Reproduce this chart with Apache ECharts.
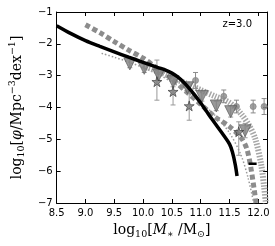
<!DOCTYPE html>
<html><head><meta charset="utf-8">
<script src="https://cdn.jsdelivr.net/npm/echarts@6/dist/echarts.min.js"></script>
<style>html,body{margin:0;padding:0;background:#fff}#c{width:275px;height:246px}</style>
</head><body><div id="c"></div>
<script>
// ---- data ----
const xTicks = [8.5, 9.0, 9.5, 10.0, 10.5, 11.0, 11.5, 12.0];
const yTicks = [-1, -2, -3, -4, -5, -6, -7];
// black model line
const modelX = [8.5, 8.75, 9.0, 9.25, 9.5, 9.75, 10.0, 10.25, 10.4, 10.5, 10.6, 10.7, 10.8, 10.9, 11.0, 11.1, 11.2, 11.3, 11.4, 11.5, 11.55, 11.6, 11.63];
const modelY = [-1.43, -1.68, -1.9, -2.08, -2.25, -2.42, -2.58, -2.74, -2.83, -2.92, -3.04, -3.2, -3.4, -3.62, -3.86, -4.12, -4.38, -4.63, -4.88, -5.15, -5.4, -5.8, -6.15];
const barX = [11.83, 11.97];
const barY = [-5.77, -5.77];
// gray thick dashed line
const dashX = [9.0, 9.25, 9.5, 9.75, 10.0, 10.25, 10.5, 10.75, 11.0, 11.25, 11.5, 11.7, 11.8, 11.88, 11.96];
const dashY = [-1.4, -1.65, -1.93, -2.2, -2.45, -2.78, -3.1, -3.5, -3.9, -4.3, -4.6, -4.95, -5.3, -6.0, -7.0];
// gray dotted line
const dotX = [9.28, 9.5, 9.75, 10.0, 10.25, 10.5, 10.75, 11.0, 11.25, 11.5, 11.7, 11.82, 11.92];
const dotY = [-2.3, -2.42, -2.57, -2.75, -2.95, -3.2, -3.5, -3.85, -4.25, -4.8, -5.5, -6.2, -7.0];
// hatched band
const bandX = [10.0, 10.25, 10.5, 10.75, 11.0, 11.25, 11.5, 11.7, 11.85, 11.95, 12.05, 12.1, 12.13];
const bandY = [-2.7, -2.85, -3.05, -3.25, -3.45, -3.65, -3.85, -4.2, -4.6, -5.0, -5.8, -6.5, -7.0];
// inverted triangles
const triX = [9.77, 10.02, 10.27, 10.52, 10.77, 11.02, 11.27, 11.52, 11.77];
const triY = [-2.63, -2.77, -2.98, -3.19, -3.38, -3.65, -3.95, -4.13, -4.73];
const triLo = [-2.75, -2.9, -3.15, -3.35, -3.55, -3.8, -4.1, -4.3, -4.95];
const triHi = [-2.5, -2.65, -2.82, -3.03, -3.22, -3.5, -3.8, -3.95, -4.5];
// stars
const starX = [10.24, 10.52, 10.8, 11.66];
const starY = [-3.19, -3.5, -3.95, -4.76];
const starLo = [-3.77, -3.92, -4.4, -5.5];
const starHi = [-2.51, -3.16, -3.56, -4.45];
// circles
const circX = [10.91, 11.4, 11.62, 11.91, 12.1];
const circY = [-3.15, -3.65, -3.97, -3.97, -3.97];
const circLo = [-3.4, -3.85, -4.17, -4.17, -4.22];
const circHi = [-2.9, -3.45, -3.77, -3.77, -3.72];
const label = 'z=3.0';

// ---- build ----
const zip = (a, b) => a.map((v, i) => [v, b[i]]);
const zip3 = (a, b, c) => a.map((v, i) => [v, b[i], c[i]]);
function errSeries(xs, lo, hi, color, z) {
  return {
    type: 'custom', z: z, silent: true,
    data: zip3(xs, lo, hi),
    renderItem: function (params, api) {
      const x = api.value(0);
      const p1 = api.coord([x, api.value(1)]);
      const p2 = api.coord([x, api.value(2)]);
      const c = 2.5;
      const st = { stroke: color, lineWidth: 1 };
      return { type: 'group', children: [
        { type: 'line', shape: { x1: p1[0], y1: p1[1], x2: p2[0], y2: p2[1] }, style: st },
        { type: 'line', shape: { x1: p1[0] - c, y1: p1[1], x2: p1[0] + c, y2: p1[1] }, style: st },
        { type: 'line', shape: { x1: p2[0] - c, y1: p2[1], x2: p2[0] + c, y2: p2[1] }, style: st }
      ]};
    }
  };
}
const starPath = 'path://M50,0 L61,35 L98,35 L68,57 L79,91 L50,70 L21,91 L32,57 L2,35 L39,35 Z';
const fmtX = v => (Math.abs(v * 2 - Math.round(v * 2)) < 1e-6) ? v.toFixed(1) : '';
const fmtY = v => v < 0 ? '\u2212' + Math.abs(v) : String(v);
const tickFont = { fontFamily: 'DejaVu Sans', fontSize: 10, color: '#000' };
const SERIF = 'DejaVu Serif';
const nameRich = {
  t: { fontFamily: SERIF, fontSize: 14, color: '#000', lineHeight: 19 },
  i: { fontFamily: SERIF, fontStyle: 'italic', fontSize: 14, color: '#000', lineHeight: 19 },
  s: { fontFamily: SERIF, fontSize: 9.5, color: '#000', verticalAlign: 'bottom', lineHeight: 9 },
  p: { fontFamily: SERIF, fontSize: 9.5, color: '#000', verticalAlign: 'top', lineHeight: 9 }
};
const chart = echarts.init(document.getElementById('c'), null, { renderer: 'canvas' });
const baseX = {
  type: 'value', min: 8.5, max: 12.15, interval: 0.5,
  splitLine: { show: false },
  axisLine: { show: true, onZero: false, lineStyle: { color: '#000', width: 1 } },
  axisTick: { show: true, inside: true, length: 4, lineStyle: { color: '#000' } }
};
const baseY = {
  type: 'value', min: -7, max: -1, interval: 1,
  splitLine: { show: false },
  axisLine: { show: true, onZero: false, lineStyle: { color: '#000', width: 1 } },
  axisTick: { show: true, inside: true, length: 4, lineStyle: { color: '#000' } }
};
chart.setOption({
  animation: false,
  grid: { left: 47, right: 8, top: 12, bottom: 43, containLabel: false },
  xAxis: [
    Object.assign({}, baseX, {
      position: 'bottom',
      axisLabel: Object.assign({ margin: 5, formatter: fmtX, showMaxLabel: false }, tickFont),
      name: '{t|log}{s|10}{t|[}{i|M}{s|\u2217}{t| /M}{s|\u2299}{t|]}',
      nameLocation: 'middle', nameGap: 16,
      nameTextStyle: { rich: nameRich }
    }),
    Object.assign({}, baseX, { position: 'top', axisLabel: { show: false } })
  ],
  yAxis: [
    Object.assign({}, baseY, {
      position: 'left',
      axisLabel: Object.assign({ margin: 4, formatter: fmtY }, tickFont),
      name: '{t|log}{s|10}{t|[}{i|\u03c6}{t|/Mpc}{p|\u22123}{t|dex}{p|\u22121}{t|]}',
      nameLocation: 'middle', nameGap: 22, nameRotate: 90,
      nameTextStyle: { rich: nameRich }
    }),
    Object.assign({}, baseY, { position: 'right', axisLabel: { show: false } })
  ],
  graphic: [{
    type: 'text', right: 23, top: 19,
    style: { text: label, fontFamily: 'DejaVu Sans', fontSize: 10, fill: '#000' }
  }],
  series: [
    { type: 'line', z: 1, data: zip(dashX, dashY), showSymbol: false, symbol: 'none', smooth: 0.3,
      lineStyle: { color: '#8c8c8c', width: 5, type: [5, 3] } },
    { type: 'line', z: 1, data: zip(dotX, dotY), showSymbol: false, symbol: 'none', smooth: 0.3,
      lineStyle: { color: '#9a9a9a', width: 1.5, type: [1.5, 2] } },
    { type: 'line', z: 2, data: zip(bandX, bandY), showSymbol: false, symbol: 'none', smooth: 0.3,
      lineStyle: { color: '#a6a6a6', width: 6, type: [1.5, 1.5] } },
    errSeries(circX, circLo, circHi, '#8a8a8a', 3),
    errSeries(triX, triLo, triHi, '#999999', 3),
    errSeries(starX, starLo, starHi, '#999999', 3),
    { type: 'scatter', z: 4, data: zip(circX, circY), symbol: 'circle', symbolSize: 6,
      itemStyle: { color: '#8a8a8a', borderColor: '#8a8a8a' } },
    { type: 'scatter', z: 5, data: zip(triX, triY), symbol: 'triangle', symbolRotate: 180, symbolSize: 12,
      itemStyle: { color: '#808080', borderColor: '#555', borderWidth: 0.8 } },
    { type: 'scatter', z: 6, data: zip(starX, starY), symbol: starPath, symbolSize: 10,
      itemStyle: { color: '#7a7a7a', borderColor: '#333', borderWidth: 0.8 } },
    { type: 'line', z: 7, data: zip(modelX, modelY), showSymbol: false, symbol: 'none', smooth: 0.3,
      lineStyle: { color: '#000', width: 3.5 } },
    { type: 'line', z: 7, data: zip(barX, barY), showSymbol: false, symbol: 'none',
      lineStyle: { color: '#000', width: 2.5 } }
  ]
});
</script></body></html>
